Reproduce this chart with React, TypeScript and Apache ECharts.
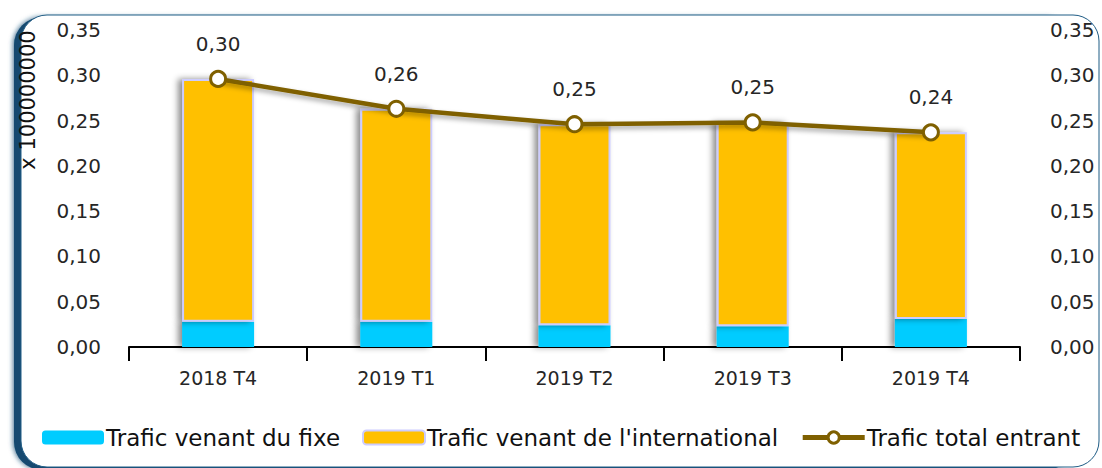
import React, { useEffect, useRef } from "react";
import * as echarts from "echarts";

const categories = ["2018 T4", "2019 T1", "2019 T2", "2019 T3", "2019 T4"];
const fixe = [0.028, 0.028, 0.024, 0.023, 0.031];
const international = [0.268, 0.235, 0.222, 0.225, 0.206];
const total = [0.296, 0.263, 0.246, 0.248, 0.237];
const axisLabels = ["0,00", "0,05", "0,10", "0,15", "0,20", "0,25", "0,30", "0,35"];

const fmt = (v: number) => v.toFixed(2).replace(".", ",");
const FONT = "DejaVu Sans";
const TXT = "#262626";

export default function App() {
  const ref = useRef<HTMLDivElement>(null);
  useEffect(() => {
    if (!ref.current) return;
    const chart = echarts.init(ref.current, undefined, { renderer: "svg" });
    const axisLabelFmt = (v: number) => axisLabels[Math.round(v / 0.05)] ?? fmt(v);
    chart.setOption({
      animation: false,
      backgroundColor: "#ffffff",
      graphic: [
        {
          type: "rect",
          z: -20,
          silent: true,
          shape: { x: 14, y: 17, width: 1060, height: 453, r: 28 },
          style: {
            fill: "#134a70",
            shadowColor: "rgba(20,80,120,0.8)",
            shadowBlur: 5,
            shadowOffsetX: -1,
          },
        },
        {
          type: "rect",
          z: -10,
          silent: true,
          shape: { x: 21, y: 15, width: 1078, height: 452, r: 26 },
          style: {
            fill: "#ffffff",
            stroke: "#1f5c85",
            lineWidth: 1,
          },
        },
        {
          type: "text",
          x: 28,
          y: 100,
          rotation: Math.PI / 2,
          style: {
            text: "x 100000000",
            font: `21px '${FONT}'`,
            fill: "#111",
            align: "center",
            verticalAlign: "middle",
          },
        },
      ],
      grid: { left: 129, right: 82, top: 30, bottom: 121 },
      legend: {
        bottom: 14,
        left: 37,
        itemWidth: 62,
        itemHeight: 14,
        itemGap: 22,
        textStyle: { fontFamily: FONT, fontSize: 23, color: "#111", padding: [0, 0, 0, -3] },
        data: [
          { name: "Trafic venant du fixe" },
          { name: "Trafic venant de l'international" },
          {
            name: "Trafic total entrant",
            lineStyle: { width: 5, color: "#7f6000" },
            itemStyle: { color: "#ffffff", borderColor: "#7f6000", borderWidth: 3 },
          },
        ],
      },
      xAxis: {
        type: "category",
        data: categories,
        axisLine: { lineStyle: { color: "#000", width: 2 } },
        axisTick: { show: true, length: 14, alignWithLabel: false, lineStyle: { color: "#000", width: 2 } },
        axisLabel: { fontFamily: FONT, fontSize: 19, color: TXT, margin: 21 },
      },
      yAxis: [
        {
          type: "value",
          min: 0,
          max: 0.35,
          interval: 0.05,
          axisLine: { show: false },
          axisTick: { show: false },
          splitLine: { show: false },
          axisLabel: { fontFamily: FONT, fontSize: 20, color: TXT, margin: 28, formatter: axisLabelFmt },
        },
        {
          type: "value",
          min: 0,
          max: 0.35,
          interval: 0.05,
          position: "right",
          axisLine: { show: false },
          axisTick: { show: false },
          splitLine: { show: false },
          axisLabel: { fontFamily: FONT, fontSize: 20, color: TXT, margin: 30, formatter: axisLabelFmt },
        },
      ],
      series: [
        {
          name: "Trafic venant du fixe",
          type: "bar",
          stack: "t",
          data: fixe,
          barWidth: 72,
          itemStyle: {
            color: "#00ccff",
            shadowColor: "rgba(0,0,0,0.45)",
            shadowBlur: 6,
            shadowOffsetX: -4,
          },
        },
        {
          name: "Trafic venant de l'international",
          type: "bar",
          stack: "t",
          data: international,
          barWidth: 72,
          itemStyle: {
            color: "#ffc000",
            borderColor: "#ccccff",
            borderWidth: 2,
            shadowColor: "rgba(0,0,0,0.45)",
            shadowBlur: 6,
            shadowOffsetX: -4,
          },
        },
        {
          name: "Trafic total entrant",
          type: "line",
          data: total,
          symbol: "circle",
          symbolSize: 15,
          z: 5,
          lineStyle: {
            color: "#7f6000",
            width: 4.5,
            shadowColor: "rgba(0,0,0,0.35)",
            shadowBlur: 5,
            shadowOffsetY: 3,
          },
          itemStyle: { color: "#ffffff", borderColor: "#7f6000", borderWidth: 3 },
          label: {
            show: true,
            position: "top",
            distance: 16,
            fontFamily: FONT,
            fontSize: 20,
            color: TXT,
            formatter: (p: any) => fmt(p.value),
          },
        },
      ],
    });
    return () => chart.dispose();
  }, []);
  return (
    <div
      ref={ref}
      style={{ position: "fixed", left: 0, top: 0, width: 1102, height: 468 }}
    />
  );
}
